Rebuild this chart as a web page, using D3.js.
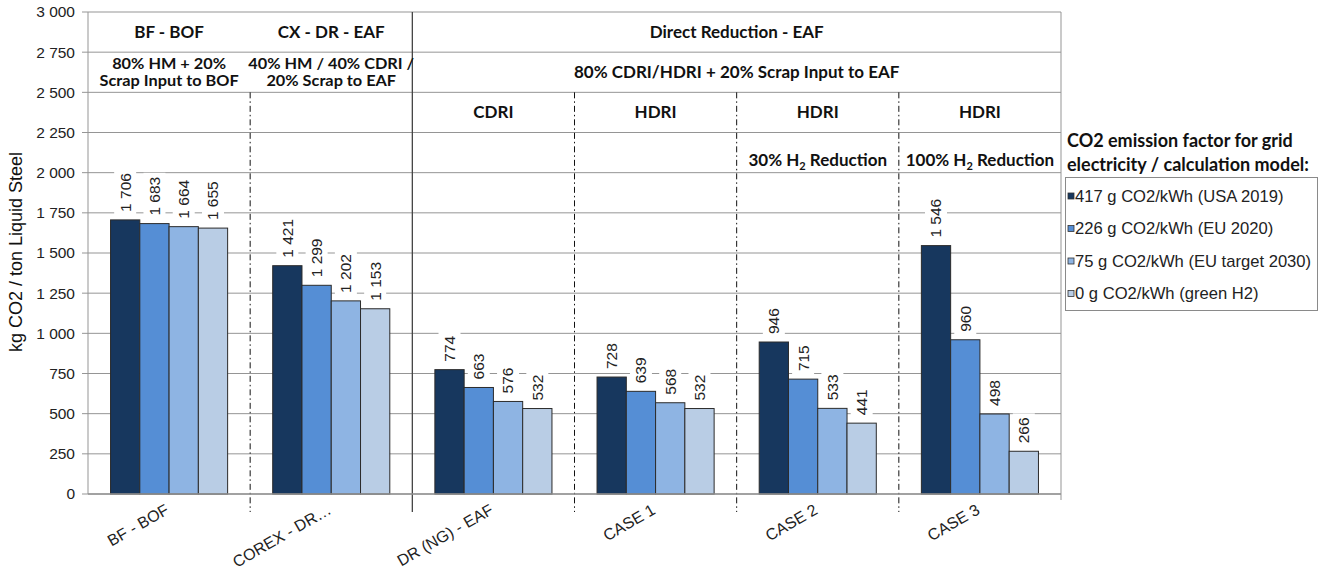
<!DOCTYPE html>
<html><head><meta charset="utf-8">
<script src="https://cdn.jsdelivr.net/npm/d3@7"></script>
<style>
body{margin:0;background:#fff;}
text{font-family:"Liberation Sans",Arial,sans-serif;}
.hdr{font-family:Lato,"Open Sans",sans-serif;font-weight:bold;font-size:17px;fill:#111;}
</style></head>
<body>
<svg id="c" width="1326" height="576"></svg>
<script>
const categories = ["BF - BOF","COREX - DR…","DR (NG) - EAF","CASE 1","CASE 2","CASE 3"];
const seriesNames = ["417 g CO2/kWh (USA 2019)","226 g CO2/kWh (EU 2020)","75 g CO2/kWh (EU target 2030)","0 g CO2/kWh (green H2)"];
const s417 = [1706,1421,774,728,946,1546];
const s226 = [1683,1299,663,639,715,960];
const s75  = [1664,1202,576,568,533,498];
const s0   = [1655,1153,532,532,441,266];
const seriesValues = [s417,s226,s75,s0];
const colors = ["#17375E","#558ED5","#8EB4E3","#B9CDE5"];
const yTicks = [0,250,500,750,1000,1250,1500,1750,2000,2250,2500,2750,3000];
const yTitle = "kg CO2 / ton Liquid Steel";
const legendTitle = ["CO2 emission factor for grid","electricity / calculation model:"];
// header table rows
const row1 = [{from:0,to:1,text:"BF - BOF"},{from:1,to:2,text:"CX - DR - EAF"},{from:2,to:6,text:"Direct Reduction - EAF"}];
const row2 = [{from:0,to:1,lines:["80% HM + 20%","Scrap Input to BOF"]},{from:1,to:2,lines:["40% HM / 40% CDRI /","20% Scrap to EAF"]},{from:2,to:6,lines:["80% CDRI/HDRI + 20% Scrap Input to EAF"]}];
const row3 = [{from:2,to:3,text:"CDRI"},{from:3,to:4,text:"HDRI"},{from:4,to:5,text:"HDRI"},{from:5,to:6,text:"HDRI"}];
const row4 = [{from:4,to:5,pre:"30% H",post:" Reduction"},{from:5,to:6,pre:"100% H",post:" Reduction"}];

const svg = d3.select("#c");
const L=88, R=1061, T=12, B=494;
const y = d3.scaleLinear().domain([0,3000]).range([B,T]);
const x0 = d3.scaleBand().domain(categories).range([L,R]).paddingInner(0).paddingOuter(0);
const x1 = d3.scaleBand().domain(d3.range(4)).range([0,x0.bandwidth()]).paddingInner(0).paddingOuter(0.77);
const bw = x0.bandwidth();
const edge = i => L + i*bw;
const fmt = d3.formatLocale({decimal:",",thousands:" ",grouping:[3],currency:["",""]}).format(",d");
const gridCol = "#959595";

// gridlines
svg.append("g").selectAll("line").data(yTicks).join("line")
  .attr("x1",L).attr("x2",R).attr("y1",d=>y(d)).attr("y2",d=>y(d))
  .attr("stroke",gridCol).attr("stroke-width",1);

// right border
svg.append("line").attr("x1",R).attr("x2",R).attr("y1",T).attr("y2",B+6).attr("stroke",gridCol);

// separators
const seps = [{i:1,solid:false,top:2500},{i:2,solid:true,top:3000},{i:3,solid:false,top:2500},{i:4,solid:false,top:2500},{i:5,solid:false,top:2500}];
svg.append("g").selectAll("line").data(seps).join("line")
  .attr("x1",d=>edge(d.i)).attr("x2",d=>edge(d.i))
  .attr("y1",d=>y(d.top)).attr("y2",B+18)
  .attr("stroke",d=>d.solid?"#444":"#111")
  .attr("stroke-width",d=>d.solid?1.3:1)
  .attr("stroke-dasharray",d=>d.solid?null:"6,3,1.5,3");

// bars
const gBars = svg.append("g");
categories.forEach((c,ci)=>{
  seriesValues.forEach((arr,si)=>{
    gBars.append("rect")
      .attr("x",x0(c)+x1(si)).attr("width",x1.bandwidth())
      .attr("y",y(arr[ci])).attr("height",B-y(arr[ci]))
      .attr("fill",colors[si]).attr("stroke","#2b2b2b").attr("stroke-width",1);
  });
});

// data labels
const gLab = svg.append("g");
categories.forEach((c,ci)=>{
  seriesValues.forEach((arr,si)=>{
    const cx = x0(c)+x1(si)+x1.bandwidth()/2;
    const g = gLab.append("g").attr("transform",`translate(${cx},${y(arr[ci])-8}) rotate(-90)`);
    const r = g.append("rect").attr("fill","#fff");
    const t = g.append("text").attr("x",0).attr("y",0).attr("dy","0.35em")
      .attr("font-size",15.5).attr("fill","#222").text(fmt(arr[ci]));
    const len = t.node().getComputedTextLength();
    r.attr("x",-3).attr("y",-11).attr("width",len+7).attr("height",22);
  });
});

// y axis
svg.append("line").attr("x1",L).attr("x2",L).attr("y1",T).attr("y2",B).attr("stroke",gridCol);
svg.append("line").attr("x1",L).attr("x2",R).attr("y1",B).attr("y2",B).attr("stroke",gridCol).attr("stroke-width",1.5);
const ya = svg.append("g");
yTicks.forEach(v=>{
  ya.append("line").attr("x1",L-6).attr("x2",L).attr("y1",y(v)).attr("y2",y(v)).attr("stroke",gridCol);
  ya.append("text").attr("x",L-13).attr("y",y(v)).attr("dy","0.35em").attr("text-anchor","end")
    .attr("font-size",15.5).attr("fill","#222").text(fmt(v));
});
svg.append("text").attr("transform",`translate(22,252) rotate(-90)`).attr("text-anchor","middle")
  .attr("font-size",18).attr("fill","#111").text(yTitle);

// x labels
const xa = svg.append("g");
categories.forEach(c=>{
  xa.append("text").attr("transform",`translate(${x0(c)+bw/2+1},${B+19}) rotate(-30)`)
    .attr("text-anchor","end").attr("font-size",16).attr("fill","#222").text(c);
});

// header texts
const hg = svg.append("g");
const rowMid = (a,b)=> (y(a)+y(b))/2;
row1.forEach(d=>{
  hg.append("text").attr("class","hdr").attr("x",(edge(d.from)+edge(d.to))/2).attr("y",rowMid(3000,2750)).attr("dy","0.35em")
    .attr("text-anchor","middle").text(d.text);
});
row2.forEach(d=>{
  const cx=(edge(d.from)+edge(d.to))/2, cy=rowMid(2750,2500);
  if(d.lines.length===1){
    hg.append("text").attr("class","hdr").attr("text-anchor","middle")
      .attr("x",cx).attr("y",cy).attr("dy","0.35em").text(d.lines[0]);
  } else {
    d.lines.forEach((ln,k)=>{
      const t = hg.append("text").attr("class","hdr").attr("text-anchor","middle").style("font-size","14.3px")
        .attr("x",cx).attr("y",cy+(k===0?-8.7:8.7)).attr("dy","0.35em").text(ln);
      const w = t.node().getComputedTextLength();
      t.attr("textLength",w*1.14).attr("lengthAdjust","spacingAndGlyphs");
    });
  }
});
row3.forEach(d=>{
  hg.append("text").attr("class","hdr").attr("x",(edge(d.from)+edge(d.to))/2).attr("y",rowMid(2500,2250)).attr("dy","0.35em")
    .attr("text-anchor","middle").text(d.text);
});
row4.forEach(d=>{
  const t = hg.append("text").attr("class","hdr").attr("x",(edge(d.from)+edge(d.to))/2).attr("y",y(2000)-7)
    .attr("text-anchor","middle");
  t.append("tspan").text(d.pre);
  t.append("tspan").attr("font-size",11).attr("dy",4).text("2");
  t.append("tspan").attr("dy",-4).text(d.post);
});

// legend
const lg = svg.append("g");
legendTitle.forEach((ln,k)=>{
  lg.append("text").attr("class","hdr").attr("x",1067).attr("y",147+k*24).style("font-size","18px").text(ln);
});
lg.append("rect").attr("x",1065.5).attr("y",177.5).attr("width",252).attr("height",133).attr("fill","#fff").attr("stroke","#8a8a8a");
seriesNames.forEach((n,i)=>{
  const yy = 196 + i*32.5;
  lg.append("rect").attr("x",1068).attr("y",yy-3).attr("width",6).attr("height",6).attr("fill",colors[i]).attr("stroke","#333").attr("stroke-width",0.8);
  lg.append("text").attr("x",1075).attr("y",yy).attr("dy","0.35em").attr("font-size",16.6).attr("fill","#222").text(n);
});
</script>
</body></html>
